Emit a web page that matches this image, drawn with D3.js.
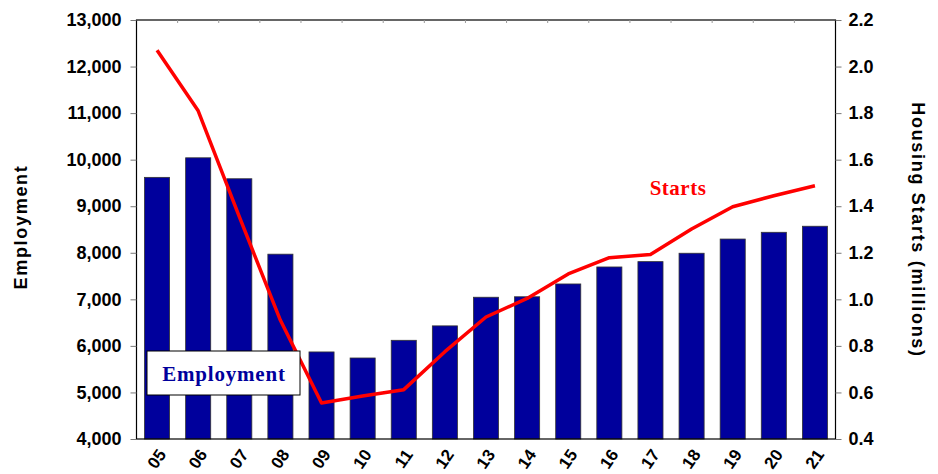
<!DOCTYPE html>
<html>
  <head>
    <meta charset="UTF-8">
    <title>Employment and Housing Starts</title>
    <style>
      body { margin: 0; background: #fff; }
      svg text { font-family: 'Liberation Sans', Arial, sans-serif; }
    </style>
  </head>
  <body>
    <div id='chart'></div>
    <script src='https://d3js.org/d3.v7.min.js'></script>
    <script>

      const years = ['05', '06', '07', '08', '09', '10', '11', '12', '13', '14', '15', '16', '17', '18', '19', '20', '21'];
      const employment = [9620, 10040, 9590, 7970, 5870, 5740, 6120, 6430, 7045, 7055, 7330, 7695, 7810, 7990, 8295, 8440, 8570];
      const starts = [2.07, 1.81, 1.355, 0.91, 0.555, 0.585, 0.612, 0.775, 0.924, 1.004, 1.109, 1.179, 1.193, 1.302, 1.398, 1.445, 1.488];
      const leftTicks = [4000, 5000, 6000, 7000, 8000, 9000, 10000, 11000, 12000, 13000];
      const rightTicks = [0.4, 0.6, 0.8, 1.0, 1.2, 1.4, 1.6, 1.8, 2.0, 2.2];

      const width = 938;
      const height = 474;
      const plotLeft = 136.5, plotRight = 835.5, plotTop = 20, plotBottom = 439;

      const svg = d3.select('#chart')
        .append('svg')
        .attr('width', width)
        .attr('height', height);

      const x = d3.scaleBand()
        .domain(years)
        .range([plotLeft, plotRight])
        .paddingInner(0.39)
        .paddingOuter(0.195);

      const yL = d3.scaleLinear().domain([4000, 13000]).range([plotBottom, plotTop]);
      const yR = d3.scaleLinear().domain([0.4, 2.2]).range([plotBottom, plotTop]);

      // bars
      svg.append('g')
        .selectAll('rect')
        .data(years)
        .enter().append('rect')
        .attr('x', (d) => x(d))
        .attr('width', x.bandwidth())
        .attr('y', (d, i) => yL(employment[i]))
        .attr('height', (d, i) => plotBottom - yL(employment[i]))
        .attr('fill', '#00009c')
        .attr('stroke', '#333')
        .attr('stroke-width', 0.8);

      // frame
      svg.append('rect')
        .attr('x', plotLeft).attr('y', plotTop)
        .attr('width', plotRight - plotLeft).attr('height', plotBottom - plotTop)
        .attr('fill', 'none')
        .attr('stroke', '#000')
        .attr('stroke-width', 1.2);

      // small ticks on top edge at band boundaries
      svg.append('g')
        .selectAll('line')
        .data(years.slice(1))
        .enter().append('line')
        .attr('x1', (d) => x(d) - x.step() * x.paddingInner() / 2)
        .attr('x2', (d) => x(d) - x.step() * x.paddingInner() / 2)
        .attr('y1', plotTop).attr('y2', plotTop + 3)
        .attr('stroke', '#999');

      const leftAxis = svg.append('g')
        .attr('transform', `translate(${plotLeft},0)`)
        .call(d3.axisLeft(yL).tickValues(leftTicks).tickSize(6).tickPadding(9).tickFormat(d3.format(',')));

      const rightAxis = svg.append('g')
        .attr('transform', `translate(${plotRight},0)`)
        .call(d3.axisRight(yR).tickValues(rightTicks).tickSize(6).tickPadding(7).tickFormat(d3.format('.1f')));

      [leftAxis, rightAxis].forEach((g) => {
        g.select('.domain').remove();
        g.selectAll('.tick line').attr('stroke', '#777');
        g.selectAll('.tick text')
          .attr('fill', '#000')
          .attr('font-size', 18)
          .attr('font-weight', 'bold')
          .attr('font-family', "'Liberation Sans', Arial, sans-serif");
      });

      // x labels
      svg.append('g')
        .selectAll('text')
        .data(years)
        .enter().append('text')
        .attr('transform', (d) => `translate(${x(d) + x.bandwidth() / 2 + 5},${plotBottom + 12}) rotate(-55)`)
        .attr('text-anchor', 'end')
        .attr('dy', '0.35em')
        .attr('font-size', 17)
        .attr('font-weight', 'bold')
        .text((d) => d);

      // starts line
      const line = d3.line()
        .x((d, i) => x(years[i]) + x.bandwidth() / 2)
        .y((d) => yR(d));

      svg.append('path')
        .datum(starts)
        .attr('d', line)
        .attr('fill', 'none')
        .attr('stroke', '#ff0000')
        .attr('stroke-width', 3.5)
        .attr('stroke-linejoin', 'round');

      // axis titles
      svg.append('text')
        .attr('transform', 'translate(27,227) rotate(-90)')
        .attr('text-anchor', 'middle')
        .attr('font-size', 18)
        .attr('letter-spacing', 1.7)
        .attr('font-weight', 'bold')
        .text('Employment');

      svg.append('text')
        .attr('transform', 'translate(912,230) rotate(90)')
        .attr('text-anchor', 'middle')
        .attr('font-size', 18)
        .attr('letter-spacing', 1.7)
        .attr('font-weight', 'bold')
        .text('Housing Starts (millions)');

      // series labels
      svg.append('text')
        .attr('x', 678).attr('y', 195)
        .attr('text-anchor', 'middle')
        .attr('font-size', 21)
        .attr('letter-spacing', 0.5)
        .attr('font-weight', 'bold')
        .attr('fill', '#ff0000')
        .style('font-family', "'Liberation Serif', 'Times New Roman', serif")
        .text('Starts');

      svg.append('rect')
        .attr('x', 147).attr('y', 351)
        .attr('width', 153).attr('height', 44)
        .attr('fill', '#fff')
        .attr('stroke', '#000')
        .attr('stroke-width', 1);

      svg.append('text')
        .attr('x', 224).attr('y', 381)
        .attr('text-anchor', 'middle')
        .attr('font-size', 21)
        .attr('letter-spacing', 0.8)
        .attr('font-weight', 'bold')
        .attr('fill', '#00009c')
        .style('font-family', "'Liberation Serif', 'Times New Roman', serif")
        .text('Employment');

    </script>
  </body>
</html>
